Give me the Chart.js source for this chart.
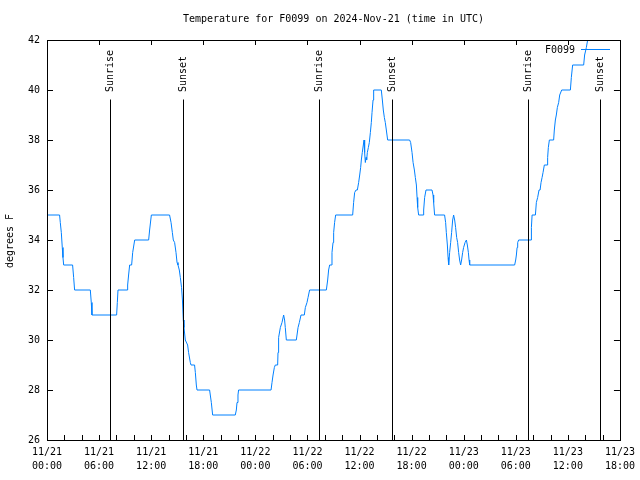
<!DOCTYPE html>
<html>
<head>
<meta charset="utf-8">
<script src="https://cdn.jsdelivr.net/npm/chart.js@4.4.1/dist/chart.umd.min.js"></script>
<style>
  html, body { margin: 0; padding: 0; background: #fff; }
  canvas { display: block; }
</style>
</head>
<body>
<canvas id="myChart" width="640" height="480"></canvas>
<script>
// hours since 11/21 00:00 UTC
const hours = [
  0, 1.45, 1.53, 1.65, 1.76, 1.84, 1.92, 2.95, 3.07, 3.18, 4.99, 5.1, 5.18, 8.02, 8.1, 8.18,
  9.22, 9.29, 9.4, 9.52, 9.75, 9.87, 10.1, 11.71, 11.82, 12.02, 14.12, 14.29, 14.44, 14.55,
  14.7, 14.86, 14.98, 15.09, 15.24, 15.36, 15.5, 15.6, 15.7, 15.78, 15.93, 16.2, 16.31, 16.51,
  16.59, 17.0, 17.09, 17.2, 17.28, 18.73, 18.81, 18.93, 19.08, 21.69, 21.81, 21.89, 22.0, 22.07,
  25.81, 25.92, 26.04, 26.19, 26.3, 26.57, 26.61, 26.68, 26.88, 27.07, 27.26, 27.37, 27.45, 27.57,
  28.72, 28.92, 29.07, 29.26, 29.64, 29.76, 29.95, 30.07, 30.25, 32.18, 32.33, 32.44, 32.56, 32.75,
  32.83, 32.95, 33.02, 33.13, 33.25, 35.21, 35.32, 35.44, 35.6, 35.75, 35.9, 36.02, 36.13, 36.21,
  36.32, 36.44, 36.52, 36.59, 36.67, 36.75, 36.82, 36.9, 37.02, 37.13, 37.25, 37.36, 37.44, 37.56,
  37.63, 38.51, 38.63, 38.74, 38.86, 38.97, 39.09, 39.24, 41.77, 41.89, 42.05, 42.17, 42.32, 42.43,
  42.55, 42.63, 42.7, 42.81, 43.32, 43.39, 43.5, 43.66, 44.35, 44.47, 44.54, 44.65, 45.8, 45.92,
  46.0, 46.12, 46.2, 46.27, 46.38, 46.5, 46.61, 46.73, 46.84, 46.96, 47.07, 47.19, 47.3, 47.42,
  47.53, 47.65, 47.76, 47.88, 47.99, 48.16, 48.31, 48.42, 48.54, 48.62, 48.69, 53.87, 53.99, 54.07,
  54.15, 54.22, 54.33, 55.76, 55.8, 55.88, 56.26, 56.37, 56.52, 56.68, 56.8, 56.91, 57.03, 57.14,
  57.29, 57.6, 57.67, 57.75, 57.87, 58.36, 58.44, 58.56, 58.67, 58.79, 58.94, 59.06, 59.29, 60.29,
  60.4, 60.55, 61.82, 61.93, 62.13, 62.28, 62.5
];
const temps = [
  35, 35, 34.7, 34.3, 33.7, 33.3, 33, 33, 32.5, 32, 32, 31.5, 31, 31, 31.5, 32,
  32, 32.2, 32.6, 33, 33, 33.5, 34, 34, 34.4, 35, 35, 34.7, 34.3, 34,
  33.9, 33.5, 33.1, 33, 32.8, 32.5, 32.1, 31.6, 30.8, 30.5, 30, 29.8, 29.5, 29.1,
  29, 29, 28.7, 28.2, 28, 28, 27.8, 27.5, 27, 27, 27.2, 27.5, 27.8, 28,
  28, 28.3, 28.6, 28.9, 29, 29, 29.5, 30.1, 30.5, 30.7, 31, 30.8, 30.5, 30,
  30, 30.5, 30.7, 31, 31, 31.3, 31.5, 31.7, 32, 32, 32.4, 32.8, 33, 33,
  33.5, 33.9, 34.3, 34.7, 35, 35, 35.5, 35.9, 36, 36, 36.3, 36.6, 36.9, 37.2,
  37.5, 37.8, 38, 37.5, 37.1, 37.3, 37.2, 37.5, 37.7, 37.9, 38.3, 38.7, 39.1, 39.6,
  40, 40, 39.6, 39.2, 38.9, 38.7, 38.4, 38, 38, 37.9, 37.5, 37.1, 36.8, 36.5,
  36.2, 35.7, 35.3, 35, 35, 35.2, 35.7, 36, 36, 35.8, 35.5, 35, 35, 34.7,
  34.3, 33.8, 33.3, 33, 33.5, 33.9, 34.3, 34.8, 35, 34.8, 34.5, 34.1, 33.9, 33.5,
  33.2, 33, 33.2, 33.5, 33.7, 33.9, 34, 33.8, 33.5, 33.2, 33, 33, 33.2, 33.4,
  33.7, 33.9, 34, 34, 34.5, 35, 35, 35.5, 35.7, 36, 36, 36.3, 36.5, 36.7,
  37, 37, 37.3, 37.7, 38, 38, 38.4, 38.8, 39, 39.3, 39.5, 39.8, 40, 40,
  40.5, 41, 41, 41.4, 41.7, 42, 42.4
];
const sunrise = [7.21, 31.29, 55.37];
const sunset = [15.67, 39.7, 63.74];
const yTicks = [26, 28, 30, 32, 34, 36, 38, 40, 42];

const FONT = '"DejaVu Sans Mono", monospace';
const LINE = 'rgb(0,128,255)';

const gnuplotBits = {
  id: 'gnuplotBits',
  afterDraw(chart) {
    const c = chart.ctx, a = chart.chartArea;
    const xs = chart.scales.x, ys = chart.scales.y;
    const px = v => Math.round(v) + 0.5;
    c.save();
    c.strokeStyle = '#000';
    c.lineWidth = 1;
    // frame
    c.strokeRect(px(a.left), px(a.top), Math.round(a.right) - Math.round(a.left), Math.round(a.bottom) - Math.round(a.top));
    c.beginPath();
    // y ticks, both sides
    yTicks.forEach(v => {
      const y = px(ys.getPixelForValue(v));
      c.moveTo(a.left, y); c.lineTo(a.left + 6, y);
      c.moveTo(a.right, y); c.lineTo(a.right - 6, y);
    });
    // bottom ticks every 2h, top ticks every 6h
    for (let h = 0; h <= 66; h += 2) {
      const x = px(xs.getPixelForValue(h));
      c.moveTo(x, a.bottom); c.lineTo(x, a.bottom - 5);
      if (h % 6 === 0) { c.moveTo(x, a.top); c.lineTo(x, a.top + 5); }
    }
    c.stroke();

    // sunrise / sunset markers
    c.font = '10px ' + FONT;
    c.fillStyle = '#000';
    const marker = (h, label) => {
      const x = px(xs.getPixelForValue(h));
      c.beginPath();
      c.moveTo(x, 99.5); c.lineTo(x, a.bottom);
      c.stroke();
      c.save();
      c.translate(x, 92);
      c.rotate(-Math.PI / 2);
      c.textAlign = 'left';
      c.textBaseline = 'middle';
      c.fillText(label, 0, 0);
      c.restore();
    };
    sunrise.forEach(h => marker(h, 'Sunrise'));
    sunset.forEach(h => marker(h, 'Sunset'));

    // title
    c.textAlign = 'center';
    c.textBaseline = 'middle';
    c.fillText('Temperature for F0099 on 2024-Nov-21 (time in UTC)', (a.left + a.right) / 2, 19);

    // y axis title
    c.save();
    c.translate(10, 241);
    c.rotate(-Math.PI / 2);
    c.fillText('degrees F', 0, 0);
    c.restore();

    // legend
    c.textAlign = 'right';
    c.fillText('F0099', 575, 50);
    c.strokeStyle = LINE;
    c.beginPath();
    c.moveTo(581, 49.5); c.lineTo(610, 49.5);
    c.stroke();
    c.restore();
  }
};

const ctx = document.getElementById('myChart').getContext('2d');
const myChart = new Chart(ctx, {
  type: 'line',
  data: {
    datasets: [{
      label: 'F0099',
      data: hours.map((h, i) => ({ x: h, y: temps[i] })),
      borderColor: LINE,
      borderWidth: 1,
      pointRadius: 0,
      tension: 0,
      fill: false
    }]
  },
  options: {
    responsive: false,
    animation: false,
    devicePixelRatio: 1,
    layout: { padding: { top: 40, right: 20, left: 0, bottom: 0 } },
    plugins: { legend: { display: false }, title: { display: false }, tooltip: { enabled: false } },
    scales: {
      x: {
        type: 'linear',
        min: 0, max: 66,
        afterFit: s => { s.height = 40; },
        grid: { display: false, drawTicks: false },
        border: { display: false },
        ticks: {
          stepSize: 6,
          autoSkip: false,
          maxRotation: 0,
          padding: 5,
          color: '#000',
          font: { family: FONT, size: 10, lineHeight: 1.4 },
          callback: v => {
            const d = 21 + Math.floor(v / 24);
            const hh = String(v % 24).padStart(2, '0');
            return ['11/' + d, hh + ':00'];
          }
        }
      },
      y: {
        min: 26, max: 42,
        afterFit: s => { s.width = 47; },
        grid: { display: false, drawTicks: false },
        border: { display: false },
        ticks: {
          stepSize: 2,
          padding: 7,
          color: '#000',
          font: { family: FONT, size: 10 }
        }
      }
    }
  },
  plugins: [gnuplotBits]
});
</script>
</body>
</html>
